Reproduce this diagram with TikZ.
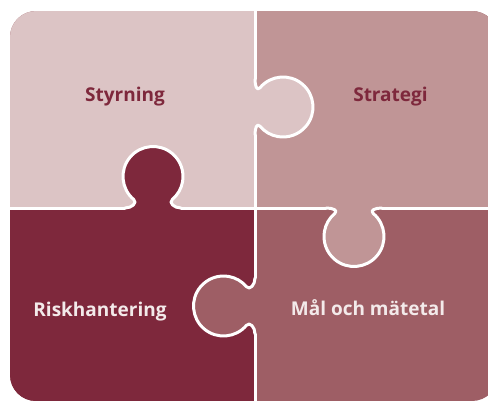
\documentclass[tikz,border=0pt]{standalone}
\usepackage{fontspec}
\setmainfont{Open Sans}
\definecolor{cA}{HTML}{DCC4C5}
\definecolor{cB}{HTML}{C09596}
\definecolor{cC}{HTML}{7E283C}
\definecolor{cD}{HTML}{9E5E65}
\definecolor{lighttext}{HTML}{F3EAEA}
\newcommand{\tabshape}[1]{(0,-28) .. controls (0,-21) and ({#1-26.2},-15.5) .. ({#1-23},-19.28) arc[start angle=-140, end angle=140, radius=30] .. controls ({#1-26.2},15.5) and (0,21) .. (0,28)}
\tikzset{
  wline/.style={draw=white, line width=3pt, line cap=round, line join=round},
  lbl/.style={font=\bfseries\fontsize{19}{22}\selectfont, anchor=base, inner sep=0pt},
  darklbl/.style={lbl, text=cC},
  lightlbl/.style={lbl, text=lighttext}
}
\begin{document}
\begin{tikzpicture}[x=1pt, y=1pt, yscale=-1]
\useasboundingbox (0,0) rectangle (488,400);
\clip (0,0) rectangle (488,400);
\begin{scope}
  \clip[rounded corners=26] (10,11) rectangle (498,401);
  \fill[cD] (0,0) rectangle (500,410);
  \fill[cA] (0,0) rectangle (255,208);
  \fill[cB] (255,0) rectangle (500,208);
  \fill[cC] (0,208) rectangle (255,410);
  % tabs
  \begin{scope}[shift={(255,107)}]
    \fill[cA] \tabshape{28} -- (-2,28) -- (-2,-28) -- cycle;
  \end{scope}
  \begin{scope}[shift={(354,208)}, rotate=90]
    \fill[cB] \tabshape{28.5} -- (-2,28) -- (-2,-28) -- cycle;
  \end{scope}
  \begin{scope}[shift={(153,208)}, rotate=-90]
    \fill[cC] \tabshape{31.5} -- (-2,28) -- (-2,-28) -- cycle;
  \end{scope}
  \begin{scope}[shift={(255,306)}, rotate=180]
    \fill[cD] \tabshape{31.5} -- (-2,28) -- (-2,-28) -- cycle;
  \end{scope}
  % white dividers
  \draw[wline] (255,-5) -- (255,79);
  \draw[wline] (255,135) -- (255,278);
  \draw[wline] (255,334) -- (255,410);
  \draw[wline] (-5,208) -- (125,208);
  \draw[wline] (181,208) -- (326,208);
  \draw[wline] (382,208) -- (500,208);
  \begin{scope}[shift={(255,107)}]
    \draw[wline] \tabshape{28};
  \end{scope}
  \begin{scope}[shift={(354,208)}, rotate=90]
    \draw[wline] \tabshape{28.5};
  \end{scope}
  \begin{scope}[shift={(153,208)}, rotate=-90]
    \draw[wline] \tabshape{31.5};
  \end{scope}
  \begin{scope}[shift={(255,306)}, rotate=180]
    \draw[wline] \tabshape{31.5};
  \end{scope}
\end{scope}
\node[darklbl] (styr) at (125,101.5) {Styrning};
\node[darklbl] (strat) at (390.5,101) {Strategi};
\node[lightlbl] (risk) at (100,316) {Riskhantering};
\node[lightlbl] (mal) at (368,315.5) {Mål och mätetal};
\end{tikzpicture}
\end{document}
